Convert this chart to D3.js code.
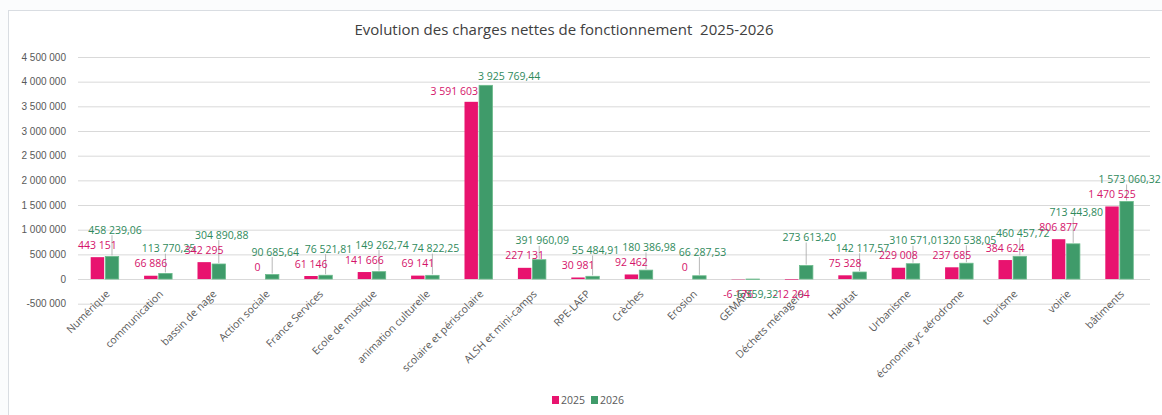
<!DOCTYPE html>
<html>
<head>
<meta charset="utf-8">
<script src="https://cdn.jsdelivr.net/npm/d3@7"></script>
<style>
  body { margin: 0; background: #fbfcfd; }
  svg { font-family: "Open Sans", "Liberation Sans", sans-serif; }
</style>
</head>
<body>
<svg id="chart" width="1162" height="415"></svg>
<script>
// Data
var categories = ["Numérique", "communication", "bassin de nage", "Action sociale", "France Services",
  "Ecole de musique", "animation culturelle", "scolaire et périscolaire", "ALSH et mini-camps", "RPE-LAEP",
  "Crèches", "Erosion", "GEMAPI", "Déchets ménagers", "Habitat", "Urbanisme", "économie yc aérodrome",
  "tourisme", "voirie", "bâtiments"];
var values2025 = [443151, 66886, 342295, 0, 61146, 141666, 69141, 3591603, 227131, 30981,
  92462, 0, -6176, -12204, 75328, 229008, 237685, 384624, 806877, 1470525];
var values2026 = [458239.06, 113770.25, 304890.88, 90685.64, 76521.81, 149262.74, 74822.25, 3925769.44, 391960.09, 55484.91,
  180386.98, 66287.53, -6359.32, 273613.20, 142117.57, 310571.01, 320538.05, 460457.72, 713443.80, 1573060.32];
var yTicks = [-500000, 0, 500000, 1000000, 1500000, 2000000, 2500000, 3000000, 3500000, 4000000, 4500000];
var seriesNames = ["2025", "2026"];
var seriesColors = ["#e8136f", "#3f9b6a"];

var svg = d3.select('#chart');
var fr = d3.formatLocale({decimal: ",", thousands: "\u00a0", grouping: [3], currency: ["", ""], minus: "-"});
var fmtInt = fr.format(",.0f");
var fmtDec = fr.format(",.2f");

var plot = {l: 78, r: 1146, t: 57, b: 303.7};

// chart area frame
svg.append('rect')
  .attr('x', 8.5).attr('y', 10.5).attr('width', 1170).attr('height', 420)
  .attr('fill', '#ffffff').attr('stroke', '#d9dde2');

svg.append('text')
  .attr('x', 564).attr('y', 35)
  .attr('text-anchor', 'middle')
  .style('white-space', 'pre')
  .style('font-size', '15px').style('fill', '#404040')
  .text('Evolution des charges nettes de fonctionnement  2025-2026');

var x = d3.scaleBand().domain(categories).range([plot.l, plot.r]).padding(0);
var xs = d3.scaleBand().domain(seriesNames).range([-14, 14]).paddingInner(0.08);
var y = d3.scaleLinear().domain([-500000, 4500000]).range([plot.b, plot.t]);

// gridlines + y axis labels
var yAxis = svg.append('g')
  .attr('transform', 'translate(' + [plot.l, 0] + ')')
  .call(d3.axisLeft(y).tickValues(yTicks).tickFormat(fmtInt)
    .tickSize(-(plot.r - plot.l + 4)).tickPadding(12));
yAxis.select('.domain').remove();
yAxis.selectAll('.tick line').attr('stroke', '#d9d9d9');
yAxis.selectAll('.tick text').style('font-size', '10px').style('fill', '#595959');

// category labels
var xAxis = svg.append('g');
xAxis.selectAll('text')
  .data(categories).enter()
  .append('text')
  .attr('transform', function(d) {
    return 'translate(' + [x(d) + x.bandwidth() / 2 + 3, y(0) + 13] + ')rotate(-45)';
  })
  .attr('text-anchor', 'end')
  .attr('dy', '0.35em')
  .style('font-size', '10.5px').style('fill', '#595959')
  .text(function(d) { return d; });

var rows = categories.map(function(c, i) {
  return {cat: c, v: [values2025[i], values2026[i]]};
});

var groups = svg.selectAll('.grp')
  .data(rows).enter()
  .append('g')
  .attr('class', 'grp')
  .attr('transform', function(d) { return 'translate(' + (x(d.cat) + x.bandwidth() / 2) + ',0)'; });

seriesNames.forEach(function(s, k) {
  groups.append('rect')
    .attr('x', xs(s))
    .attr('width', xs.bandwidth())
    .attr('y', function(d) { return y(Math.max(0, d.v[k])); })
    .attr('height', function(d) { return Math.abs(y(d.v[k]) - y(0)); })
    .attr('fill', seriesColors[k])
    .attr('stroke', k === 1 ? '#6cbb8c' : 'none')
    .attr('stroke-width', 0.8);
});

// data labels: 2025 sits over its bar, 2026 is lifted above it with a leader line
groups.each(function(d) {
  var g = d3.select(this);
  var c0 = xs('2025') + xs.bandwidth() / 2;
  var c1 = xs('2026') + xs.bandwidth() / 2;
  var ly0 = d.v[0] < 0 ? y(d.v[0]) + 15 : y(d.v[0]) - 12;
  var ly1, a0 = 'middle', a1 = 'middle', x0 = c0, x1 = c1 + 3;
  if (d.v[1] < 0) ly1 = y(d.v[1]) + 15;
  else if (d.v[0] < 0) ly1 = y(d.v[1]) - 28;
  else if (ly0 > y(d.v[1])) {
    // tall neighbouring bars: labels pushed to the sides
    ly0 = y(d.v[0]) - 10;
    ly1 = y(d.v[1]) - 9;
    a0 = 'end'; x0 = xs('2025') + xs.bandwidth();
    a1 = 'start'; x1 = xs('2026') - 1;
  }
  else ly1 = Math.min(y(d.v[1]) - 12, ly0 - 15);

  if (d.v[1] >= 0 && y(d.v[1]) - ly1 > 16) {
    g.append('line')
      .attr('x1', c1).attr('x2', c1)
      .attr('y1', ly1 + 5).attr('y2', y(d.v[1]) - 1)
      .attr('stroke', '#a6a6a6').attr('stroke-width', 0.8);
  }
  g.append('text')
    .attr('x', x0).attr('y', ly0).attr('dy', '0.35em')
    .attr('text-anchor', a0)
    .style('font-size', '10.5px').style('fill', '#d4136a')
    .text(fmtInt(d.v[0]));
  g.append('text')
    .attr('x', x1).attr('y', ly1).attr('dy', '0.35em')
    .attr('text-anchor', a1)
    .style('font-size', '10.5px').style('fill', '#2f8a5c')
    .text(fmtDec(d.v[1]));
});

// legend
var legend = svg.append('g').attr('transform', 'translate(552,400)');
seriesNames.forEach(function(s, k) {
  var lg = legend.append('g').attr('transform', 'translate(' + (k * 39) + ',0)');
  lg.append('rect').attr('x', 0).attr('y', -4).attr('width', 7).attr('height', 8)
    .attr('fill', seriesColors[k]);
  lg.append('text').attr('x', 9).attr('y', 0).attr('dy', '0.35em')
    .style('font-size', '10.5px').style('fill', '#595959').text(s);
});
</script>
</body>
</html>
